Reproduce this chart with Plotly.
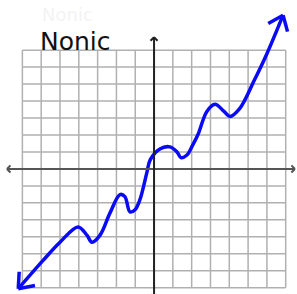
import math
import plotly.graph_objects as go

# ---- data ----
curve_x = [-7.22, -5.90, -5.00, -4.04, -3.57, -3.30, -2.87, -2.34, -1.81, -1.55, -1.28, -1.01,
           -0.75, -0.55, -0.38, -0.20, 0.31, 0.84, 1.22, 1.43, 1.75, 2.06, 2.33, 2.81, 3.24,
           3.72, 4.03, 4.56, 5.31, 6.00, 6.86]
curve_y = [-7.06, -5.39, -4.32, -3.42, -3.90, -4.32, -3.90, -2.59, -1.51, -1.63, -2.53, -2.40,
           -1.81, -1.00, -0.20, 0.55, 1.18, 1.30, 1.00, 0.67, 0.82, 1.42, 2.01, 3.39, 3.81,
           3.39, 3.09, 3.57, 5.18, 6.79, 9.06]
grid_ticks = list(range(-7, 8))
title_text = "Nonic"

# ---- geometry ----
W, H = 297, 294
X_RANGE = [-8.19, 7.60]
Y_RANGE = [-7.37, 9.955]
PX_X = W / (X_RANGE[1] - X_RANGE[0])
PX_Y = H / (Y_RANGE[1] - Y_RANGE[0])

fig = go.Figure()
shapes = []

# grid
for t in grid_ticks:
    shapes.append(dict(type="line", x0=t, x1=t, y0=-7, y1=7, xref="x", yref="y",
                       line=dict(color="#b0b0b0", width=1.5), layer="below"))
    shapes.append(dict(type="line", x0=-7, x1=7, y0=t, y1=t, xref="x", yref="y",
                       line=dict(color="#b0b0b0", width=1.5), layer="below"))


def arrow_head(tx, ty, dx, dy, length_px, half_angle_deg, color, width):
    # dx,dy : pixel direction pointing back from the tip
    ang = math.atan2(dy, dx)
    segs = []
    for s in (-1, 1):
        a = ang + s * math.radians(half_angle_deg)
        ex = tx + length_px * math.cos(a) / PX_X
        ey = ty + length_px * math.sin(a) / PX_Y
        segs.append(dict(type="line", x0=tx, y0=ty, x1=ex, y1=ey, xref="x", yref="y",
                         line=dict(color=color, width=width)))
    return segs


# axes
hx0, hx1 = -7.82, 7.49
vy0, vy1 = -7.6, 7.76
shapes.append(dict(type="line", x0=hx0, x1=hx1, y0=0, y1=0, xref="x", yref="y",
                   line=dict(color="#555555", width=2)))
shapes.append(dict(type="line", x0=0, x1=0, y0=vy0, y1=vy1, xref="x", yref="y",
                   line=dict(color="#222222", width=2)))
shapes += arrow_head(hx0, 0, 1, 0, 5, 45, "#555555", 2)
shapes += arrow_head(hx1, 0, -1, 0, 5, 45, "#555555", 2)
shapes += arrow_head(0, vy1, 0, -1, 5, 45, "#222222", 2)
shapes += arrow_head(0, vy0, 0, 1, 5, 45, "#222222", 2)

# curve
blue = "#0a0af5"
fig.add_trace(go.Scatter(x=curve_x, y=curve_y, mode="lines",
                         line=dict(color=blue, width=3.5, shape="spline", smoothing=1.0),
                         hoverinfo="skip", showlegend=False))

# curve arrowheads
for i_tip, i_prev in ((0, 1), (-1, -2)):
    tx, ty = curve_x[i_tip], curve_y[i_tip]
    dx = (curve_x[i_prev] - tx) * PX_X
    dy = (curve_y[i_prev] - ty) * PX_Y
    shapes += arrow_head(tx, ty, dx, dy, 17, 38, blue, 3.5)

fig.update_layout(
    width=W, height=H,
    margin=dict(l=0, r=0, t=0, b=0),
    paper_bgcolor="white", plot_bgcolor="white",
    xaxis=dict(range=X_RANGE, visible=False, fixedrange=True),
    yaxis=dict(range=Y_RANGE, visible=False, fixedrange=True),
    shapes=shapes,
    showlegend=False,
    annotations=[
        dict(text=title_text, xref="paper", yref="paper", x=40 / W, y=1 - 14 / H,
             xanchor="left", yanchor="middle", showarrow=False,
             font=dict(family="DejaVu Sans", size=18, color="#f3f3f3")),
        dict(text=title_text, xref="paper", yref="paper", x=38 / W, y=1 - 41 / H,
             xanchor="left", yanchor="middle", showarrow=False,
             font=dict(family="DejaVu Sans", size=25, color="#111111")),
    ],
)

fig.write_html("out.html", config={"displayModeBar": False},
               post_script="document.body.style.margin='0';document.body.style.overflow='hidden';")
